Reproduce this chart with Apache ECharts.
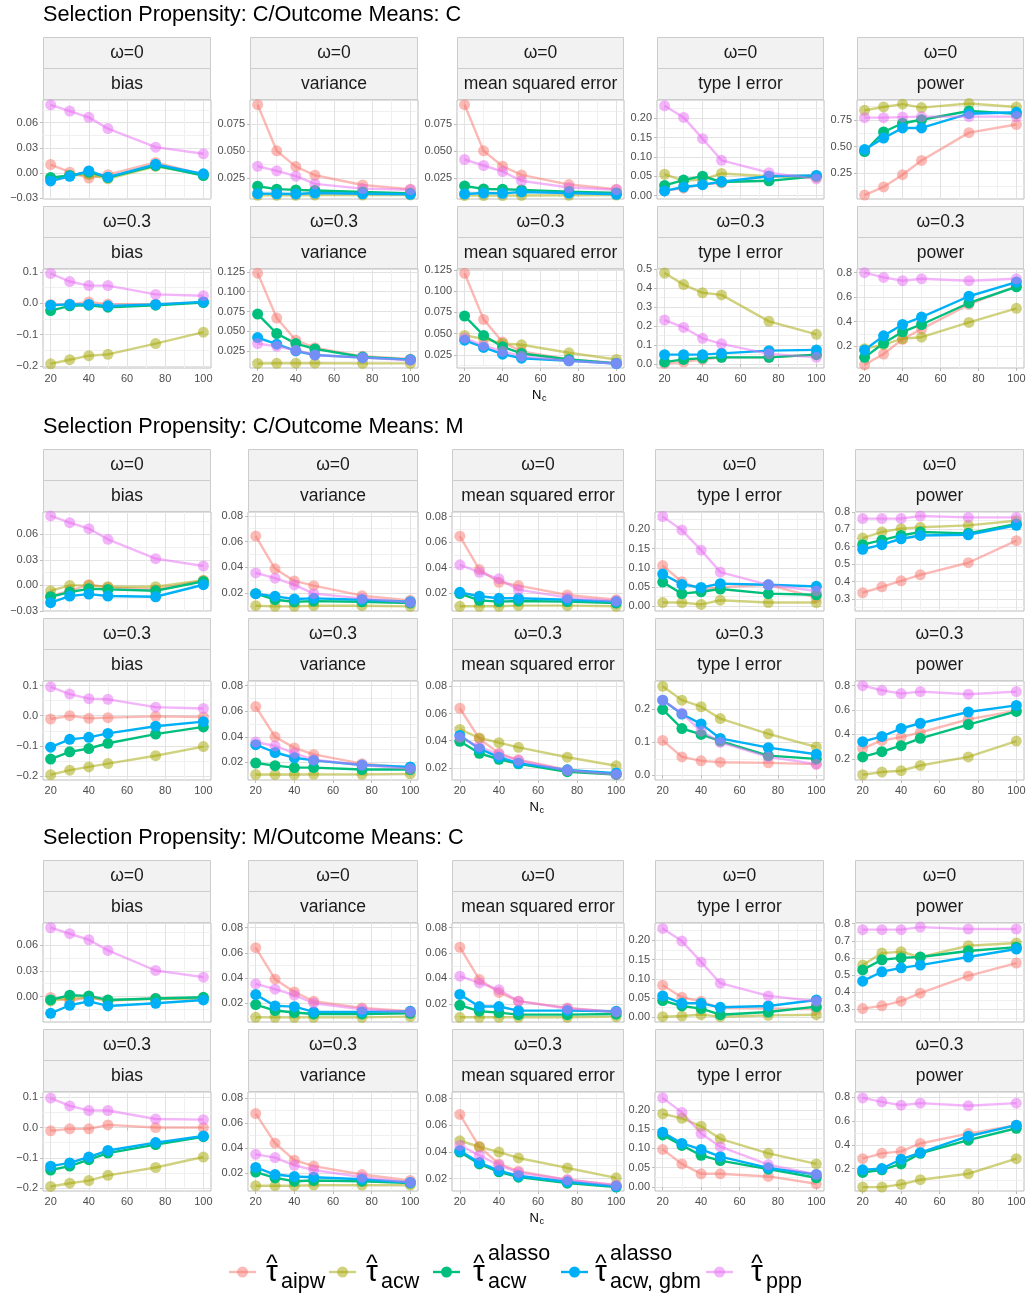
<!DOCTYPE html>
<html>
<head>
<meta charset="utf-8">
<script src="https://cdn.jsdelivr.net/npm/echarts@6/dist/echarts.min.js"></script>
<style>
  html, body { margin: 0; padding: 0; background: #fff; }
  #chart { width: 1029px; height: 1297px; }
</style>
</head>
<body>
<div id="chart"></div>
<script>
// sample sizes on the x axis
const nc = [20, 30, 40, 50, 75, 100];
const xMajor = [20, 40, 60, 80, 100];
const xMinor = [30, 50, 70, 90];

// series order in every panel array: aipw, acw, alasso acw, alasso acw gbm, ppp
const methodColors = ['#F8766D', '#A3A500', '#00BF7D', '#00B0F6', '#E76BF3'];
const methodFaded = [true, true, false, false, true];
const metricNames = ['bias', 'variance', 'mean squared error', 'type I error', 'power'];

// ---- Selection Propensity: C / Outcome Means: C, omega = 0
const cc0Bias = [
  [0.010, 0.001, -0.006, -0.002, 0.0126, -0.002],
  [-0.006, -0.003, -0.002, -0.007, 0.008, -0.002],
  [-0.0055, -0.003, 0.001, -0.0055, 0.0087, -0.003],
  [-0.0095, -0.004, 0.0024, -0.005, 0.0103, -0.001],
  [0.0813, 0.0738, 0.0663, 0.0529, 0.0308, 0.0229]
];
const cc0Var = [
  [0.0934, 0.0503, 0.0356, 0.0275, 0.0184, 0.0144],
  [0.0088, 0.0087, 0.0087, 0.0090, 0.0090, 0.0091],
  [0.0172, 0.0145, 0.0138, 0.0133, 0.0118, 0.0106],
  [0.0103, 0.0102, 0.0100, 0.0109, 0.0102, 0.0097],
  [0.0359, 0.0316, 0.0266, 0.0194, 0.0150, 0.0140]
];
const cc0Mse = [
  [0.0934, 0.0503, 0.0359, 0.0278, 0.0188, 0.0144],
  [0.0085, 0.0085, 0.0085, 0.0086, 0.0088, 0.0090],
  [0.0175, 0.0147, 0.0144, 0.0138, 0.0122, 0.0109],
  [0.0100, 0.0109, 0.0106, 0.0119, 0.0109, 0.0097],
  [0.0422, 0.0366, 0.0310, 0.0222, 0.0160, 0.0140]
];
const cc0T1 = [
  [0.012, 0.019, 0.028, 0.033, 0.050, 0.052],
  [0.055, 0.038, 0.041, 0.057, 0.050, 0.047],
  [0.026, 0.040, 0.050, 0.035, 0.038, 0.050],
  [0.012, 0.022, 0.028, 0.036, 0.050, 0.052],
  [0.232, 0.202, 0.147, 0.091, 0.059, 0.043]
];
const cc0Pow = [
  [0.047, 0.123, 0.237, 0.370, 0.630, 0.706],
  [0.839, 0.870, 0.896, 0.864, 0.902, 0.870],
  [0.453, 0.636, 0.718, 0.750, 0.832, 0.807],
  [0.472, 0.579, 0.674, 0.674, 0.807, 0.820],
  [0.770, 0.770, 0.775, 0.780, 0.780, 0.780]
];
// ---- C / C, omega = 0.3
const cc3Bias = [
  [-0.004, -0.003, 0.004, -0.003, -0.003, 0.003],
  [-0.1935, -0.1806, -0.1677, -0.1634, -0.129, -0.0925],
  [-0.0237, -0.0086, -0.0065, -0.013, -0.0065, 0.002],
  [-0.0065, -0.004, -0.004, -0.0086, -0.004, 0.004],
  [0.0946, 0.069, 0.056, 0.056, 0.028, 0.0237]
];
const cc3Var = [
  [0.1233, 0.0668, 0.0389, 0.0296, 0.0187, 0.0153],
  [0.0097, 0.0099, 0.0100, 0.0100, 0.0098, 0.0098],
  [0.0718, 0.0474, 0.0347, 0.0280, 0.0178, 0.0145],
  [0.0423, 0.0339, 0.0254, 0.0204, 0.0170, 0.0145],
  [0.0347, 0.0313, 0.0263, 0.0204, 0.0170, 0.0136]
];
const cc3Mse = [
  [0.1210, 0.0667, 0.0400, 0.0290, 0.0195, 0.0155],
  [0.0478, 0.0439, 0.0384, 0.0368, 0.0274, 0.0195],
  [0.0707, 0.0478, 0.0344, 0.0266, 0.0195, 0.0148],
  [0.0423, 0.0337, 0.0258, 0.0210, 0.0179, 0.0148],
  [0.0447, 0.0360, 0.0290, 0.0234, 0.0179, 0.0148]
];
const cc3T1 = [
  [0.004, 0.011, 0.025, 0.036, 0.036, 0.050],
  [0.479, 0.418, 0.375, 0.364, 0.225, 0.157],
  [0.011, 0.025, 0.032, 0.036, 0.036, 0.050],
  [0.050, 0.050, 0.050, 0.057, 0.071, 0.075],
  [0.232, 0.193, 0.136, 0.107, 0.054, 0.036]
];
const cc3Pow = [
  [0.046, 0.134, 0.255, 0.338, 0.541, 0.690],
  [0.178, 0.211, 0.260, 0.272, 0.393, 0.508],
  [0.107, 0.222, 0.316, 0.376, 0.552, 0.684],
  [0.167, 0.283, 0.376, 0.437, 0.607, 0.723],
  [0.800, 0.761, 0.734, 0.750, 0.734, 0.750]
];
// ---- Selection Propensity: C / Outcome Means: M, omega = 0
const cm0Bias = [
  [-0.0125, -0.0063, 0.0008, -0.0023, -0.0047, 0.0055],
  [-0.0063, 0.0000, 0.0000, -0.0016, -0.0016, 0.0060],
  [-0.0133, -0.0078, -0.0040, -0.0047, -0.0063, 0.0047],
  [-0.0203, -0.0125, -0.0102, -0.0125, -0.0133, 0.0008],
  [0.0814, 0.0735, 0.0665, 0.0540, 0.0313, 0.0227]
];
const cm0Var = [
  [0.0643, 0.0388, 0.0294, 0.0257, 0.0179, 0.0143],
  [0.0101, 0.0096, 0.0096, 0.0101, 0.0101, 0.0096],
  [0.0195, 0.0148, 0.0132, 0.0137, 0.0132, 0.0122],
  [0.0195, 0.0174, 0.0153, 0.0158, 0.0148, 0.0132],
  [0.0356, 0.0315, 0.0263, 0.0195, 0.0158, 0.0127]
];
const cm0Mse = [
  [0.0647, 0.0384, 0.0284, 0.0258, 0.0184, 0.0147],
  [0.0095, 0.0095, 0.0095, 0.0100, 0.0100, 0.0095],
  [0.0195, 0.0142, 0.0132, 0.0137, 0.0132, 0.0121],
  [0.0205, 0.0174, 0.0158, 0.0158, 0.0147, 0.0132],
  [0.0421, 0.0363, 0.0311, 0.0226, 0.0163, 0.0137]
];
const cm0T1 = [
  [0.106, 0.064, 0.044, 0.050, 0.056, 0.023],
  [0.010, 0.010, 0.005, 0.016, 0.010, 0.010],
  [0.063, 0.033, 0.038, 0.045, 0.033, 0.030],
  [0.084, 0.057, 0.049, 0.059, 0.056, 0.052],
  [0.233, 0.198, 0.146, 0.089, 0.056, 0.040]
];
const cm0Pow = [
  [0.335, 0.369, 0.404, 0.438, 0.508, 0.635],
  [0.650, 0.685, 0.704, 0.712, 0.723, 0.750],
  [0.612, 0.638, 0.665, 0.685, 0.677, 0.731],
  [0.585, 0.612, 0.646, 0.665, 0.669, 0.723],
  [0.762, 0.762, 0.762, 0.777, 0.769, 0.769]
];
// ---- C / M, omega = 0.3
const cm3Bias = [
  [-0.0109, 0.0000, -0.0087, -0.0065, -0.0022, -0.0043],
  [-0.1957, -0.1804, -0.1696, -0.1587, -0.1326, -0.1022],
  [-0.1435, -0.1196, -0.1087, -0.0913, -0.0609, -0.0370],
  [-0.1043, -0.0783, -0.0717, -0.0587, -0.0348, -0.0196],
  [0.0957, 0.0717, 0.0565, 0.0543, 0.0283, 0.0239]
];
const cm3Var = [
  [0.0636, 0.0400, 0.0313, 0.0262, 0.0190, 0.0159],
  [0.0105, 0.0105, 0.0105, 0.0106, 0.0106, 0.0110],
  [0.0195, 0.0174, 0.0159, 0.0159, 0.0144, 0.0144],
  [0.0338, 0.0277, 0.0236, 0.0215, 0.0179, 0.0164],
  [0.0359, 0.0328, 0.0272, 0.0220, 0.0179, 0.0149]
];
const cm3Mse = [
  [0.0639, 0.0415, 0.0307, 0.0259, 0.0185, 0.0151],
  [0.0483, 0.0420, 0.0385, 0.0351, 0.0278, 0.0215],
  [0.0395, 0.0307, 0.0263, 0.0229, 0.0171, 0.0151],
  [0.0439, 0.0341, 0.0278, 0.0234, 0.0185, 0.0161],
  [0.0424, 0.0356, 0.0298, 0.0254, 0.0180, 0.0151]
];
const cm3T1 = [
  [0.106, 0.056, 0.044, 0.040, 0.038, 0.034],
  [0.270, 0.228, 0.208, 0.172, 0.126, 0.086],
  [0.200, 0.142, 0.124, 0.104, 0.060, 0.050],
  [0.228, 0.186, 0.156, 0.112, 0.084, 0.064],
  [0.228, 0.188, 0.134, 0.100, 0.056, 0.034]
];
const cm3Pow = [
  [0.286, 0.351, 0.378, 0.416, 0.524, 0.595],
  [0.070, 0.092, 0.103, 0.146, 0.216, 0.346],
  [0.216, 0.259, 0.308, 0.368, 0.481, 0.589],
  [0.341, 0.384, 0.449, 0.492, 0.584, 0.638],
  [0.800, 0.762, 0.735, 0.751, 0.730, 0.751]
];
// ---- Selection Propensity: M / Outcome Means: C, omega = 0
const mc0Bias = [
  [-0.001, -0.005, -0.001, -0.005, -0.002, -0.002],
  [-0.005, -0.002, -0.001, -0.004, -0.003, -0.002],
  [-0.0039, 0.0016, 0.0008, -0.0039, -0.0023, -0.0008],
  [-0.0195, -0.0101, -0.0055, -0.0109, -0.0078, -0.0039],
  [0.0803, 0.0732, 0.0662, 0.0538, 0.0304, 0.0226]
];
const mc0Var = [
  [0.0641, 0.0391, 0.0290, 0.0216, 0.0163, 0.0136],
  [0.0088, 0.0088, 0.0088, 0.0088, 0.0088, 0.0094],
  [0.0189, 0.0142, 0.0126, 0.0115, 0.0115, 0.0120],
  [0.0269, 0.0179, 0.0173, 0.0131, 0.0131, 0.0136],
  [0.0354, 0.0312, 0.0264, 0.0200, 0.0152, 0.0131]
];
const mc0Mse = [
  [0.0646, 0.0391, 0.0290, 0.0221, 0.0168, 0.0136],
  [0.0094, 0.0094, 0.0094, 0.0094, 0.0094, 0.0099],
  [0.0189, 0.0142, 0.0131, 0.0115, 0.0115, 0.0120],
  [0.0274, 0.0179, 0.0179, 0.0147, 0.0147, 0.0142],
  [0.0418, 0.0365, 0.0312, 0.0221, 0.0163, 0.0136]
];
const mc0T1 = [
  [0.0835, 0.0522, 0.0417, 0.0243, 0.0226, 0.0209],
  [0.0017, 0.0035, 0.0070, 0.0017, 0.0052, 0.0070],
  [0.0435, 0.0296, 0.0226, 0.0070, 0.0139, 0.0278],
  [0.0557, 0.0365, 0.0365, 0.0261, 0.0296, 0.0452],
  [0.231, 0.198, 0.144, 0.0887, 0.0557, 0.0417]
];
const mc0Pow = [
  [0.304, 0.320, 0.347, 0.394, 0.495, 0.570],
  [0.558, 0.628, 0.636, 0.605, 0.671, 0.687],
  [0.530, 0.589, 0.600, 0.605, 0.640, 0.663],
  [0.464, 0.519, 0.542, 0.558, 0.605, 0.652],
  [0.765, 0.765, 0.765, 0.780, 0.769, 0.769]
];
// ---- M / C, omega = 0.3
const mc3Bias = [
  [-0.0108, -0.0043, -0.0043, 0.0086, 0.0000, 0.0000],
  [-0.1940, -0.1834, -0.1748, -0.1575, -0.1316, -0.0971],
  [-0.1400, -0.1270, -0.1057, -0.0841, -0.0561, -0.0302],
  [-0.1273, -0.1165, -0.0971, -0.0755, -0.0496, -0.0280],
  [0.0970, 0.0712, 0.0561, 0.0561, 0.0280, 0.0259]
];
const mc3Var = [
  [0.0675, 0.0440, 0.0304, 0.0257, 0.0190, 0.0143],
  [0.0101, 0.0101, 0.0101, 0.0106, 0.0106, 0.0106],
  [0.0210, 0.0163, 0.0137, 0.0143, 0.0137, 0.0122],
  [0.0247, 0.0190, 0.0174, 0.0169, 0.0153, 0.0127],
  [0.0351, 0.0325, 0.0263, 0.0226, 0.0169, 0.0127]
];
const mc3Mse = [
  [0.0681, 0.0438, 0.0309, 0.0255, 0.0190, 0.0150],
  [0.0483, 0.0438, 0.0398, 0.0354, 0.0279, 0.0205],
  [0.0398, 0.0309, 0.0250, 0.0210, 0.0165, 0.0136],
  [0.0408, 0.0319, 0.0259, 0.0220, 0.0175, 0.0141],
  [0.0448, 0.0373, 0.0299, 0.0245, 0.0190, 0.0150]
];
const mc3T1 = [
  [0.0974, 0.0598, 0.0342, 0.0342, 0.0274, 0.0085],
  [0.1897, 0.1778, 0.1573, 0.1248, 0.0872, 0.0598],
  [0.1350, 0.1077, 0.0821, 0.0684, 0.0462, 0.0239],
  [0.1419, 0.1128, 0.0974, 0.0786, 0.0496, 0.0325],
  [0.2308, 0.1932, 0.1385, 0.1043, 0.0581, 0.0325]
];
const mc3Pow = [
  [0.283, 0.328, 0.344, 0.411, 0.494, 0.565],
  [0.044, 0.044, 0.067, 0.106, 0.156, 0.283],
  [0.167, 0.189, 0.239, 0.328, 0.439, 0.539],
  [0.189, 0.200, 0.278, 0.333, 0.472, 0.565],
  [0.794, 0.761, 0.733, 0.750, 0.728, 0.750]
];

// layout of the three blocks: [ymin, ymax, break step, decimals] per panel
const blocks = [
  {
    title: 'Selection Propensity: C/Outcome Means: C', top: 37,
    cols: [[43, 211], [250, 418], [457, 624], [657, 824], [857, 1024]],
    rows: [
      { omega: 'ω=0', data: [cc0Bias, cc0Var, cc0Mse, cc0T1, cc0Pow],
        axes: [[-0.031, 0.087, 0.03, 2], [0.0053, 0.0978, 0.025, 3], [0.0053, 0.0978, 0.025, 3], [-0.009, 0.247, 0.05, 2], [0.01, 0.935, 0.25, 2]] },
      { omega: 'ω=0.3', data: [cc3Bias, cc3Var, cc3Mse, cc3T1, cc3Pow],
        axes: [[-0.207, 0.109, 0.1, 1], [0.004, 0.1285, 0.025, 3], [0.0095, 0.126, 0.025, 3], [-0.02, 0.5, 0.1, 1], [0.02, 0.83, 0.2, 1]] }
    ]
  },
  {
    title: 'Selection Propensity: C/Outcome Means: M', top: 449,
    cols: [[43, 211], [248, 418], [452, 624], [655, 824], [855, 1024]],
    rows: [
      { omega: 'ω=0', data: [cm0Bias, cm0Var, cm0Mse, cm0T1, cm0Pow],
        axes: [[-0.03, 0.086, 0.03, 2], [0.006, 0.083, 0.02, 2], [0.0058, 0.0837, 0.02, 2], [-0.012, 0.245, 0.05, 2], [0.23, 0.80, 0.1, 1]] },
      { omega: 'ω=0.3', data: [cm3Bias, cm3Var, cm3Mse, cm3T1, cm3Pow],
        axes: [[-0.213, 0.115, 0.1, 1], [0.0062, 0.0836, 0.02, 2], [0.011, 0.084, 0.02, 2], [-0.014, 0.286, 0.1, 1], [0.027, 0.838, 0.2, 1]] }
    ]
  },
  {
    title: 'Selection Propensity: M/Outcome Means: C', top: 860,
    cols: [[43, 211], [248, 418], [452, 624], [655, 824], [855, 1024]],
    rows: [
      { omega: 'ω=0', data: [mc0Bias, mc0Var, mc0Mse, mc0T1, mc0Pow],
        axes: [[-0.0296, 0.0857, 0.03, 2], [0.0051, 0.0837, 0.02, 2], [0.0057, 0.0837, 0.02, 2], [-0.012, 0.245, 0.05, 2], [0.2255, 0.804, 0.1, 1]] },
      { omega: 'ω=0.3', data: [mc3Bias, mc3Var, mc3Mse, mc3T1, mc3Pow],
        axes: [[-0.209, 0.117, 0.1, 1], [0.0059, 0.0847, 0.02, 2], [0.0106, 0.0849, 0.02, 2], [-0.0103, 0.246, 0.05, 2], [0.011, 0.844, 0.2, 1]] }
    ]
  }
];

const FONT = '"Liberation Sans", Arial, sans-serif';

function majorBreaks(min, max, step) {
  const out = [];
  for (let k = Math.ceil(min / step - 1e-9); k * step <= max + 1e-9; k++) {
    out.push(+(k * step).toFixed(6));
  }
  return out;
}
function minorBreaks(min, max, step) {
  const out = [];
  for (let k = Math.floor(min / step) - 1; k * step <= max + step; k++) {
    const v = +((k + 0.5) * step).toFixed(6);
    if (v >= min && v <= max) out.push(v);
  }
  return out;
}
function fmt(v, dec) {
  if (Math.abs(v) < 1e-9) return (0).toFixed(dec);
  return (v < 0 ? '\u2212' : '') + Math.abs(v).toFixed(dec);
}

const grids = [], xAxes = [], yAxes = [], series = [], graphics = [];
let gi = 0;

blocks.forEach((b) => {
  graphics.push({
    type: 'text', left: 43, top: b.top - 33,
    style: { text: b.title, fontSize: 21.7, fontFamily: FONT, fill: '#000' }
  });
  b.rows.forEach((row, r) => {
    const rowTop = b.top + r * 169;
    const plotTop = rowTop + 63;
    const plotBottom = rowTop + 162;
    const isBottom = r === b.rows.length - 1;
    b.cols.forEach((c, k) => {
      const [x0, x1] = c;
      // strips
      [[row.omega, rowTop], [metricNames[k], rowTop + 31]].forEach(([label, y]) => {
        graphics.push({
          type: 'rect', shape: { x: x0 + 0.5, y: y + 0.5, width: x1 - x0 - 1, height: 31 },
          style: { fill: '#F2F2F2', stroke: '#CCCCCC', lineWidth: 1 }, z: 1
        });
        graphics.push({
          type: 'text', x: (x0 + x1) / 2, y: y + 16,
          style: { text: label, fontSize: 17.5, fontFamily: FONT, fill: '#1A1A1A', align: 'center', verticalAlign: 'middle' }, z: 2
        });
      });

      const [ymin, ymax, step, dec] = row.axes[k];
      grids.push({
        left: x0, top: plotTop, width: x1 - x0, height: plotBottom - plotTop,
        show: true, borderColor: '#BDBDBD', borderWidth: 1, backgroundColor: '#fff'
      });
      // minor grid axes first so major lines sit on top
      xAxes.push({
        type: 'value', gridIndex: gi, min: 16, max: 104,
        axisLine: { show: false },
        axisTick: { show: false, customValues: xMinor },
        axisLabel: { show: false, customValues: xMinor },
        splitLine: { show: true, lineStyle: { color: '#F0F0F0', width: 1 } }
      });
      xAxes.push({
        type: 'value', gridIndex: gi, min: 16, max: 104, position: 'bottom',
        axisLine: { show: false },
        axisTick: { show: isBottom, customValues: xMajor, length: 3, lineStyle: { color: '#BDBDBD' } },
        axisLabel: { show: isBottom, customValues: xMajor, color: '#4D4D4D', fontSize: 11, fontFamily: FONT, margin: 5 },
        splitLine: { show: true, lineStyle: { color: '#E2E2E2', width: 1 } }
      });
      const maj = majorBreaks(ymin, ymax, step);
      const mnr = minorBreaks(ymin, ymax, step);
      yAxes.push({
        type: 'value', gridIndex: gi, min: ymin, max: ymax, position: 'right',
        axisLine: { show: false },
        axisTick: { show: false, customValues: mnr },
        axisLabel: { show: false, customValues: mnr },
        splitLine: { show: true, lineStyle: { color: '#F0F0F0', width: 1 } }
      });
      yAxes.push({
        type: 'value', gridIndex: gi, min: ymin, max: ymax, position: 'left',
        axisLine: { show: false },
        axisTick: { show: true, customValues: maj, length: 3, lineStyle: { color: '#BDBDBD' } },
        axisLabel: {
          show: true, customValues: maj, color: '#4D4D4D', fontSize: 11, fontFamily: FONT, margin: 5,
          formatter: (v) => fmt(v, dec)
        },
        splitLine: { show: true, lineStyle: { color: '#E2E2E2', width: 1 } }
      });

      row.data[k].forEach((vals, m) => {
        const op = methodFaded[m] ? 0.5 : 1;
        series.push({
          type: 'line', xAxisIndex: 2 * gi + 1, yAxisIndex: 2 * gi + 1,
          data: nc.map((x, i) => [x, vals[i]]),
          symbol: 'circle', symbolSize: 11, showSymbol: true,
          lineStyle: { color: methodColors[m], width: 2.4, opacity: op },
          itemStyle: { color: methodColors[m], opacity: op, borderWidth: 0 },
          emphasis: { disabled: true },
          animation: false, silent: true
        });
      });
      gi++;
    });
    if (isBottom) {
      const mid = (b.cols[2][0] + b.cols[2][1]) / 2;
      graphics.push({
        type: 'text', x: mid + 1, y: plotBottom + 27,
        style: { text: 'N', fontSize: 13, fontFamily: FONT, fill: '#000', align: 'right', verticalAlign: 'middle' }
      });
      graphics.push({
        type: 'text', x: mid + 1.5, y: plotBottom + 31,
        style: { text: 'c', fontSize: 9, fontFamily: FONT, fill: '#000', align: 'left', verticalAlign: 'middle' }
      });
    }
  });
});

// legend built from pieces: tau-hat with sub/superscripts
const legendItems = [
  { icon: 229, tau: 272, sub: 'aipw', sup: '', m: 0 },
  { icon: 329, tau: 372, sub: 'acw', sup: '', m: 1 },
  { icon: 433, tau: 479, sub: 'acw', sup: 'alasso', m: 2 },
  { icon: 561, tau: 601, sub: 'acw, gbm', sup: 'alasso', m: 3 },
  { icon: 706, tau: 757, sub: 'ppp', sup: '', m: 4 }
];
const LY = 1272;
legendItems.forEach((it) => {
  const op = methodFaded[it.m] ? 0.5 : 1;
  graphics.push({
    type: 'line', shape: { x1: it.icon, y1: LY, x2: it.icon + 27, y2: LY },
    style: { stroke: methodColors[it.m], lineWidth: 2.4, opacity: op }
  });
  graphics.push({
    type: 'circle', shape: { cx: it.icon + 13.5, cy: LY, r: 5.5 },
    style: { fill: methodColors[it.m], opacity: op }
  });
  graphics.push({
    type: 'text', x: it.tau, y: LY + 1,
    style: { text: 'τ', fontSize: 30, fontFamily: FONT, fill: '#000', align: 'center', verticalAlign: 'middle' }
  });
  graphics.push({
    type: 'text', x: it.tau, y: LY - 8,
    style: { text: '^', fontSize: 24, fontFamily: FONT, fill: '#000', align: 'center', verticalAlign: 'middle' }
  });
  graphics.push({
    type: 'text', x: it.tau + 9, y: LY + 10,
    style: { text: it.sub, fontSize: 21.5, fontFamily: FONT, fill: '#000', align: 'left', verticalAlign: 'middle' }
  });
  if (it.sup) {
    graphics.push({
      type: 'text', x: it.tau + 9, y: LY - 18,
      style: { text: it.sup, fontSize: 21.5, fontFamily: FONT, fill: '#000', align: 'left', verticalAlign: 'middle' }
    });
  }
});

const chart = echarts.init(document.getElementById('chart'), null, { renderer: 'canvas' });
chart.setOption({
  backgroundColor: '#fff',
  animation: false,
  grid: grids,
  xAxis: xAxes,
  yAxis: yAxes,
  series: series,
  graphic: graphics
});
</script>
</body>
</html>
